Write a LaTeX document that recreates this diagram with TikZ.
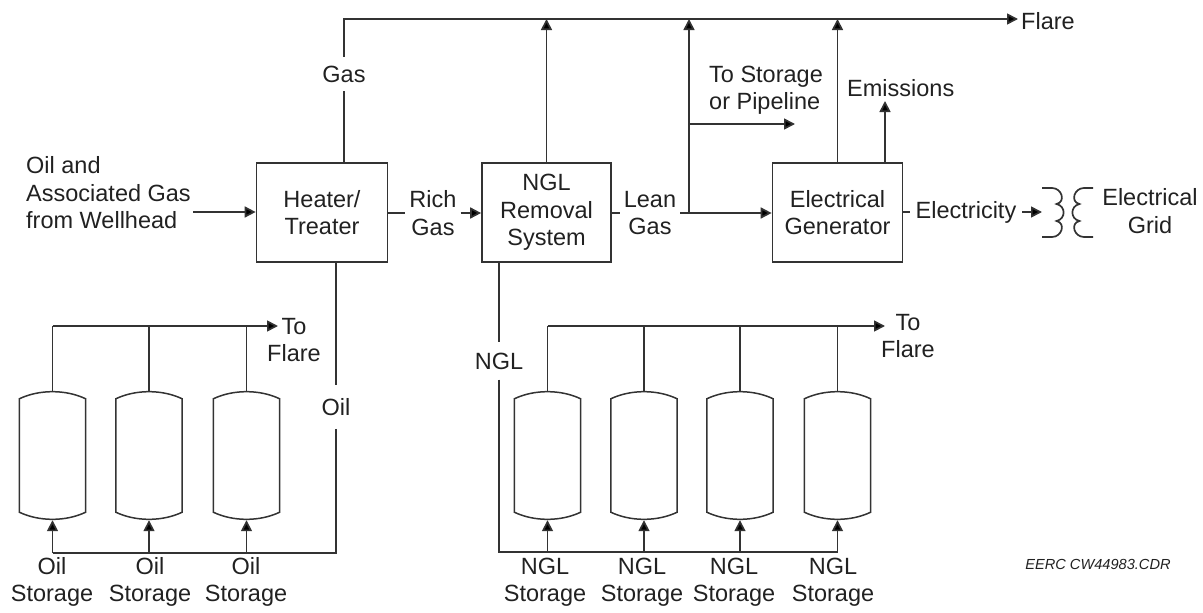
\documentclass[tikz,border=0pt]{standalone}
\usepackage{fontspec}
\setmainfont{Liberation Sans}
\usetikzlibrary{arrows.meta,calc}
\definecolor{ink}{gray}{0.2}
\definecolor{txt}{gray}{0.13}
\tikzset{
  pipe/.style={draw=ink,line width=1.7pt},
  arr/.style={pipe,-{Triangle[length=11pt,width=11pt,fill=black]}},
  procbox/.style={draw=ink,line width=1.7pt,minimum height=99pt,inner sep=0pt,align=center,text=txt,font=\fontsize{23.5}{27.5}\selectfont},
  lab/.style={align=center,text=txt,font=\fontsize{23.5}{27.5}\selectfont,inner sep=0pt},
  gaplab/.style={lab,inner ysep=8.5pt,inner xsep=4pt},
  tankbox/.style={minimum width=66pt,minimum height=129pt,inner sep=0pt},
}
\newcommand{\tank}[2]{%
  \node[tankbox] (#1) at (#2,455.5) {};
  \draw[ink,line width=1.5pt]
    ($(#1.north west)+(0,8)$) .. controls ($(#1.north west)+(20,-1.5)$) and ($(#1.north east)+(-20,-1.5)$) .. ($(#1.north east)+(0,8)$)
    -- ($(#1.south east)+(0,-8)$) .. controls ($(#1.south east)+(-20,1.5)$) and ($(#1.south west)+(20,1.5)$) .. ($(#1.south west)+(0,-8)$)
    -- cycle;}
\begin{document}
\begin{tikzpicture}[x=1pt,y=-1pt]
\useasboundingbox (0,0) rectangle (1203,613);
% process boxes
\node[procbox,minimum width=131pt] (heater) at (322,212.5) {Heater/\\Treater};
\node[procbox,minimum width=129pt] (ngl) at (546.5,212.5) {NGL\\Removal\\System};
\node[procbox,minimum width=130pt] (gen) at (837.5,212.5) {Electrical\\Generator};
% labels
\node[lab,anchor=west,align=left] (inlet) at (26,193) {Oil and\\Associated Gas\\from Wellhead};
\node[gaplab] (gas) at (344,74) {Gas};
\node[gaplab] (rich) at (433,213) {Rich\\Gas};
\node[gaplab] (lean) at (650,213) {Lean\\Gas};
\node[gaplab,inner xsep=6pt] (elec) at (966,212) {Electricity};
\node[lab,anchor=west] (flare) at (1021,21) {Flare};
\node[lab,anchor=west,align=left] (store) at (709,90) {To Storage\\or Pipeline};
\node[lab,anchor=west] (emis) at (847,88) {Emissions};
\node[lab] (grid) at (1150,211) {Electrical\\Grid};
\node[lab] (oilflare) at (294,340) {To\\Flare};
\node[lab] (nglflare) at (908,336) {To\\Flare};
\node[gaplab,inner ysep=13pt] (oil) at (336,407) {Oil};
\node[gaplab,inner ysep=10pt] (ngllab) at (499,361) {NGL};
\node[lab,font=\fontsize{14.6}{17}\selectfont\itshape] (eerc) at (1098,564) {EERC CW44983.CDR};
% tanks
\tank{o1}{52.5}\tank{o2}{149}\tank{o3}{246.5}
\tank{n1}{547.5}\tank{n2}{644}\tank{n3}{740}\tank{n4}{837.5}
% storage labels
\node[lab] (lo1) at (52,582) {Oil\\Storage};
\node[lab] (lo2) at (150,582) {Oil\\Storage};
\node[lab] (lo3) at (246,582) {Oil\\Storage};
\node[lab] (ln1) at (545,582) {NGL\\Storage};
\node[lab] (ln2) at (642,582) {NGL\\Storage};
\node[lab] (ln3) at (734,582) {NGL\\Storage};
\node[lab] (ln4) at (833,582) {NGL\\Storage};
% free ends
\coordinate (top) at (344,19);
\coordinate (topend) at (1018,19);
\coordinate (inend) at (193,212);
\coordinate (branch) at (689,212);
\coordinate (storeend) at (795,124);
\coordinate (emisend) at (885,101);
\coordinate (elecend) at (1042,212);
\coordinate (otop) at (52.5,326);
\coordinate (oend) at (278,326);
\coordinate (obus) at (52.5,553);
\coordinate (ntop) at (547.5,326);
\coordinate (nend) at (885,326);
\coordinate (nbus) at (837.5,552);
% top header
\draw[pipe] (heater.north -| gas) -- (gas.south);
\draw[arr] (gas.north) |- (topend);
\draw[arr] (ngl.north) -- (ngl.north |- top);
\draw[arr] (branch) -- (branch |- top);
\draw[arr] (gen.north) -- (gen.north |- top);
\draw[arr] (branch |- storeend) -- (storeend);
\draw[arr] (gen.north -| emisend) -- (emisend);
% main line
\draw[arr] (inend) -- (heater.west |- inend);
\draw[pipe] (heater.east |- rich) -- (rich.west);
\draw[arr] (rich.east) -- (ngl.west |- rich);
\draw[pipe] (ngl.east |- lean) -- (lean.west);
\draw[arr] (lean.east) -- (gen.west |- lean);
\draw[pipe] (gen.east |- elec) -- (elec.west);
\draw[arr] (elec.east) -- (elecend);
% oil side
\draw[pipe] (heater.south -| oil) -- (oil.north);
\draw[pipe] (oil.south) |- (obus);
\foreach \t in {o1,o2,o3} {
  \draw[arr] (\t.south |- obus) -- (\t.south);
}
\draw[arr] (otop) -- (oend);
\draw[pipe] (o1.north) -- (o1.north |- otop);
\draw[pipe] (o2.north) -- (o2.north |- otop);
\draw[pipe] (o3.north) -- (o3.north |- otop);
% NGL side
\draw[pipe] (ngl.south -| ngllab) -- (ngllab.north);
\draw[pipe] (ngllab.south) |- (nbus);
\foreach \t in {n1,n2,n3,n4} {
  \draw[arr] (\t.south |- nbus) -- (\t.south);
  \draw[pipe] (\t.north) -- (\t.north |- ntop);
}
\draw[arr] (ntop) -- (nend);
% transformer coils
\draw[ink,line width=1.7pt] (1042,188) -- (1052,188)
  .. controls (1062,188) and (1066,202) .. (1056.5,204)
  .. controls (1066,206) and (1066,219) .. (1056.5,221)
  .. controls (1066,223) and (1062,237) .. (1052,237) -- (1042,237);
\draw[ink,line width=1.7pt] (1093,188) -- (1084,188)
  .. controls (1074,188) and (1070,202) .. (1079.5,204)
  .. controls (1070,206) and (1070,219) .. (1079.5,221)
  .. controls (1070,223) and (1074,237) .. (1084,237) -- (1093,237);
\end{tikzpicture}
\end{document}
